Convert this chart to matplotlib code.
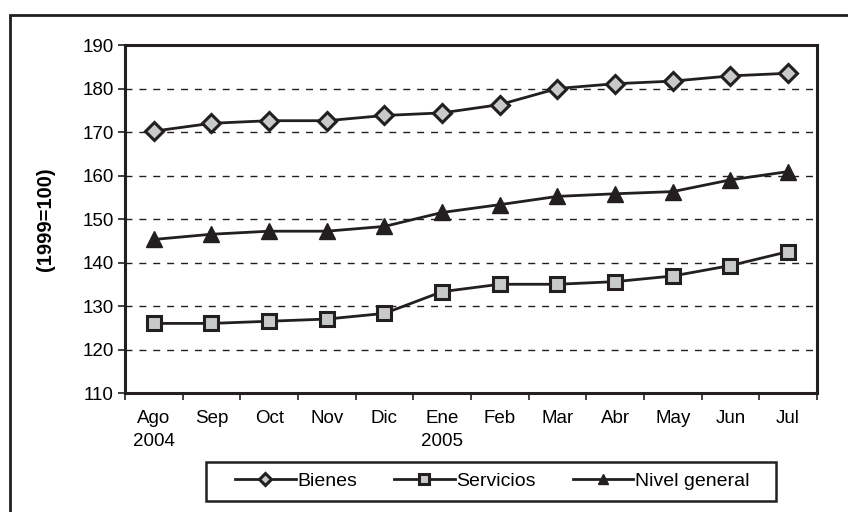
import matplotlib.pyplot as plt
from matplotlib.patches import Rectangle
import numpy as np

meses = ["Ago\n2004", "Sep", "Oct", "Nov", "Dic", "Ene\n2005",
         "Feb", "Mar", "Abr", "May", "Jun", "Jul"]
bienes = [170.2, 172.0, 172.6, 172.6, 173.8, 174.4, 176.3, 180.0, 181.1, 181.7, 182.9, 183.5]
servicios = [126.0, 126.0, 126.5, 127.0, 128.3, 133.3, 135.0, 135.0, 135.6, 136.9, 139.3, 142.5]
nivel = [145.3, 146.5, 147.2, 147.2, 148.3, 151.5, 153.3, 155.2, 155.8, 156.3, 159.0, 160.9]


def main():
    plt.rcParams['font.family'] = ['Liberation Sans', 'DejaVu Sans']
    plt.rcParams['font.size'] = 13.5

    fig = plt.figure(figsize=(8.48, 5.12), dpi=100)
    ax = fig.add_axes([0.1474, 0.2324, 0.816, 0.6797])

    col = '#231f20'
    gris = '#c8c9cb'

    # outer frame around the whole chart
    fig.patches.append(Rectangle((0.0118, -0.05), 1.2, 0.05 + 0.971, transform=fig.transFigure,
                                 fill=False, edgecolor=col, linewidth=2))
    # legend box
    fig.patches.append(Rectangle((206 / 848, 1 - 501 / 512), 570 / 848, 39 / 512,
                                 transform=fig.transFigure, fill=False, edgecolor=col, linewidth=1.8))

    x = np.arange(len(meses))
    ax.plot(x, bienes, color=col, lw=2, marker='D', ms=9, mfc=gris, mec=col, mew=2.2, label='Bienes', zorder=3)
    ax.plot(x, servicios, color=col, lw=2, marker='s', ms=10, mfc=gris, mec=col, mew=2.2, label='Servicios', zorder=3)
    ax.plot(x, nivel, color=col, lw=2, marker='^', ms=12, mfc=col, mec=col, mew=1, label='Nivel general', zorder=3)

    ax.set_xlim(-0.5, len(meses) - 0.5)
    ax.set_ylim(110, 190)
    ax.set_yticks(range(110, 191, 10))
    for v in range(120, 190, 10):
        ax.axhline(v, color=col, lw=1, ls=(0, (5, 5)), zorder=1)

    ax.set_xticks(x)
    ax.set_xticklabels(meses, linespacing=1.45)
    ax.set_xticks(np.arange(-0.5, len(meses), 1), minor=True)
    ax.tick_params(axis='x', which='major', length=0, pad=12)
    ax.tick_params(axis='x', which='minor', length=5, width=1.2, color=col, direction='out')
    ax.tick_params(axis='y', length=5, width=1.2, color=col, direction='out', pad=3)

    for s in ax.spines.values():
        s.set_linewidth(2.2)
        s.set_color(col)

    ax.set_ylabel('(1999=100)', fontweight='bold', fontsize=14.5, labelpad=20)

    fig.legend(loc='center', bbox_to_anchor=(492.5 / 848, 1 - 481 / 512), ncol=3, frameon=False,
               markerscale=0.65, handlelength=3.1, handletextpad=0.1, columnspacing=1.9,
               borderpad=0.0, fontsize=14)

    fig.savefig('out.png', dpi=100)


if __name__ == "__main__":
    main()
